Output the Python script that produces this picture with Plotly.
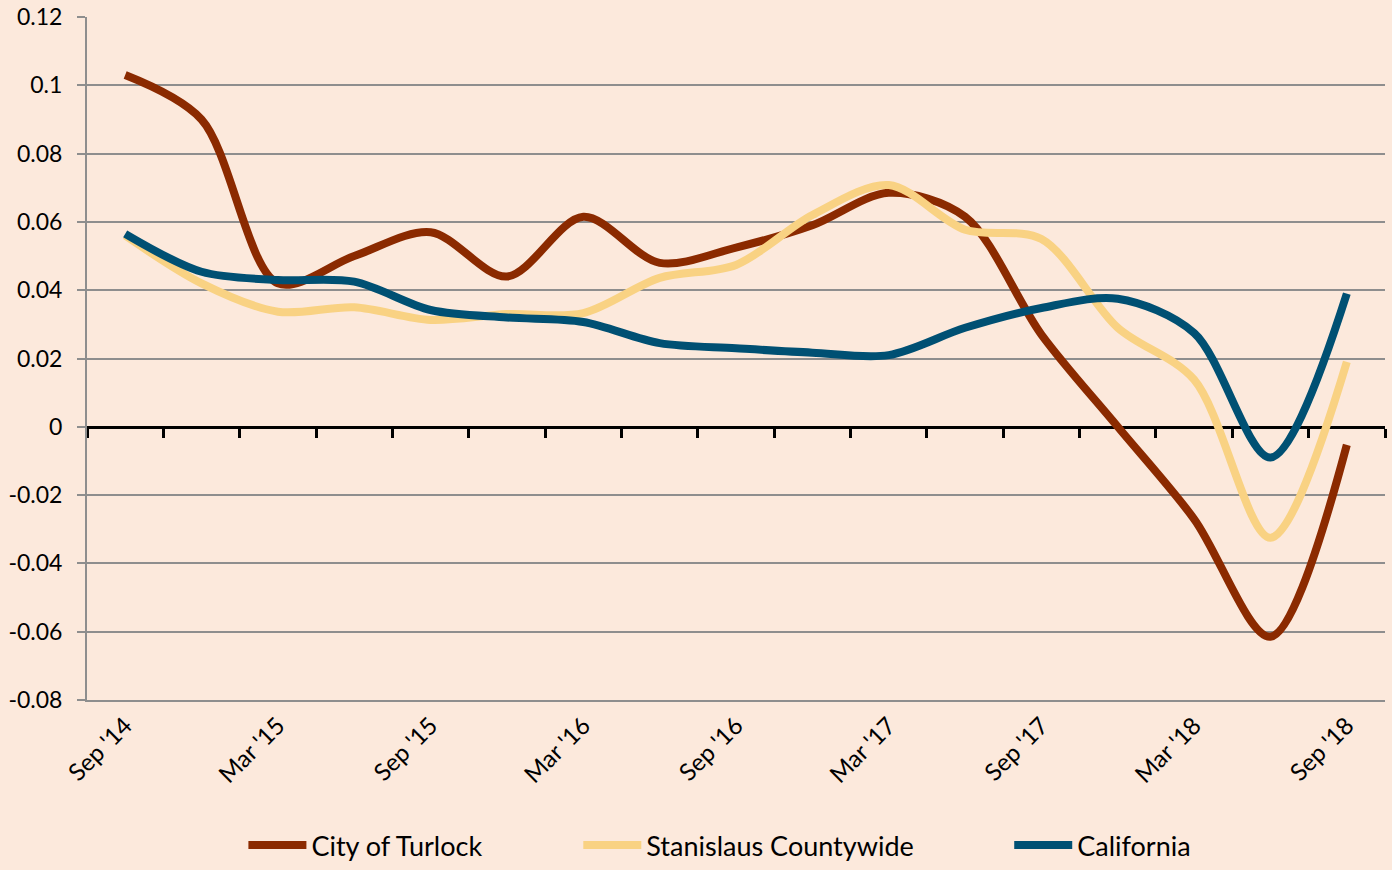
import plotly.graph_objects as go

quarters = ["Sep '14", "Dec '14", "Mar '15", "Jun '15", "Sep '15", "Dec '15",
            "Mar '16", "Jun '16", "Sep '16", "Dec '16", "Mar '17", "Jun '17",
            "Sep '17", "Dec '17", "Mar '18", "Jun '18", "Sep '18"]
turlock = [0.103, 0.090, 0.042, 0.050, 0.057, 0.044, 0.0615, 0.048, 0.0525,
           0.059, 0.0685, 0.0615, 0.027, 0.000, -0.027, -0.0615, -0.0053]
stanislaus = [0.056, 0.042, 0.0337, 0.035, 0.0313, 0.033, 0.0333, 0.0436, 0.0474,
              0.062, 0.0708, 0.0577, 0.055, 0.029, 0.0138, -0.0325, 0.019]
california = [0.0565, 0.0454, 0.043, 0.0425, 0.0342, 0.032, 0.0307, 0.0245, 0.023,
              0.0217, 0.021, 0.029, 0.0348, 0.0375, 0.0275, -0.009, 0.039]
y_ticks = [0.12, 0.1, 0.08, 0.06, 0.04, 0.02, 0, -0.02, -0.04, -0.06, -0.08]
y_ticktext = ["0.12", "0.1", "0.08", "0.06", "0.04", "0.02", "0",
              "-0.02", "-0.04", "-0.06", "-0.08"]

FONT = "Lato, 'Open Sans', sans-serif"
BG = "#FCE9DC"
GRID = "#8E8E8E"

series = [
    ("City of Turlock", turlock, "#8B2A00", "legend", 0.1205),
    ("Stanislaus Countywide", stanislaus, "#F9D283", "legend2", 0.3785),
    ("California", california, "#005073", "legend3", 0.7105),
]

fig = go.Figure()
for name, vals, color, leg, _ in series:
    fig.add_trace(go.Scatter(
        x=quarters, y=vals, name=name, mode="lines",
        line=dict(color=color, width=8, shape="spline", smoothing=0.9),
        legend=leg,
    ))
# empty helper trace so the zero-crossing axis (x2) gets drawn
fig.add_trace(go.Scatter(x=[], y=[], xaxis="x2", yaxis="y", showlegend=False,
                         hoverinfo="skip"))

legend_common = dict(orientation="h", yref="container", y=-0.007, yanchor="bottom",
                     xanchor="left", itemwidth=58,
                     bgcolor="rgba(0,0,0,0)", font=dict(family=FONT, size=27, color="#000"))
layout_legends = {}
for name, vals, color, leg, lx in series:
    layout_legends[leg] = dict(legend_common, x=lx)

n = len(quarters)
fig.update_layout(
    width=1392, height=870,
    margin=dict(l=87, r=7, t=17, b=170, autoexpand=False),
    paper_bgcolor=BG, plot_bgcolor=BG,
    font=dict(family=FONT, size=23, color="#000"),
    showlegend=True,
    xaxis=dict(
        type="category", categoryorder="array", categoryarray=quarters,
        range=[-0.5, n - 0.5], automargin=False,
        tickvals=quarters[::2], ticktext=quarters[::2],
        tickangle=-45, ticks="", showgrid=False, zeroline=False,
        showline=True, linecolor=GRID, linewidth=2,
        tickfont=dict(family=FONT, size=24, color="#000"),
    ),
    xaxis2=dict(
        overlaying="x", anchor="free", position=0.4, side="bottom",
        range=[-0.5, n - 0.5], tickvals=[i - 0.5 for i in range(n + 1)],
        ticks="outside", ticklen=9, tickwidth=2.5, tickcolor="#000",
        showticklabels=False, showgrid=False, zeroline=False, automargin=False,
        showline=True, linecolor="#000", linewidth=2.5, layer="below traces",
    ),
    yaxis=dict(
        range=[-0.08, 0.12], tickvals=y_ticks, ticktext=y_ticktext,
        showgrid=True, gridcolor=GRID, gridwidth=2, zeroline=False,
        showline=True, linecolor=GRID, linewidth=2, automargin=False,
        ticks="outside", ticklen=8, tickcolor=GRID, tickwidth=2,
        ticklabelstandoff=10,
        tickfont=dict(family=FONT, size=23, color="#000"),
    ),
    **layout_legends,
)

fig.write_html("out.html", config={"displayModeBar": False},
               post_script="document.body.style.margin='0';document.body.style.padding='0';")
